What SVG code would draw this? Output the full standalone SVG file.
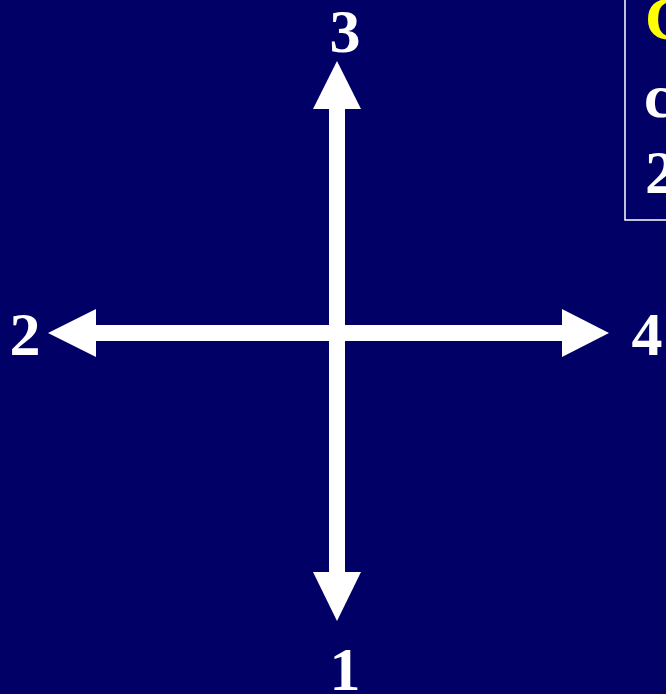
<svg xmlns="http://www.w3.org/2000/svg" width="666" height="694" viewBox="0 0 666 694">
<style>
.lbl{font-family:"Liberation Serif","Times New Roman",serif;font-weight:bold;font-size:62px;fill:#ffffff}
.yel{fill:#ffff00}
.arrow{fill:#ffffff}
</style>
<rect x="0" y="0" width="666" height="694" fill="#000066"/>
<g id="connectors">
<rect class="arrow" x="329" y="105" width="16" height="471"/>
<rect class="arrow" x="92" y="325" width="474" height="16"/>
<polygon class="arrow" points="337,61 313,109 361,109"/>
<polygon class="arrow" points="337,621 313,572 361,572"/>
<polygon class="arrow" points="48,333 96,309 96,357"/>
<polygon class="arrow" points="609,333 562,309 562,357"/>
</g>
<g id="n3"><text class="lbl" x="345" y="52" text-anchor="middle">3</text></g>
<g id="n1"><text class="lbl" x="345" y="690" text-anchor="middle">1</text></g>
<g id="n2"><text class="lbl" x="25" y="355" text-anchor="middle">2</text></g>
<g id="n4"><text class="lbl" x="647" y="355" text-anchor="middle">4</text></g>
<g id="note">
<rect x="625" y="-10" width="60" height="230" fill="none" stroke="#ffffff" stroke-width="1.5"/>
<text class="lbl yel" x="645" y="39">C</text>
<text class="lbl" x="644" y="117">c</text>
<text class="lbl" x="645" y="193">2</text>
</g>
</svg>
